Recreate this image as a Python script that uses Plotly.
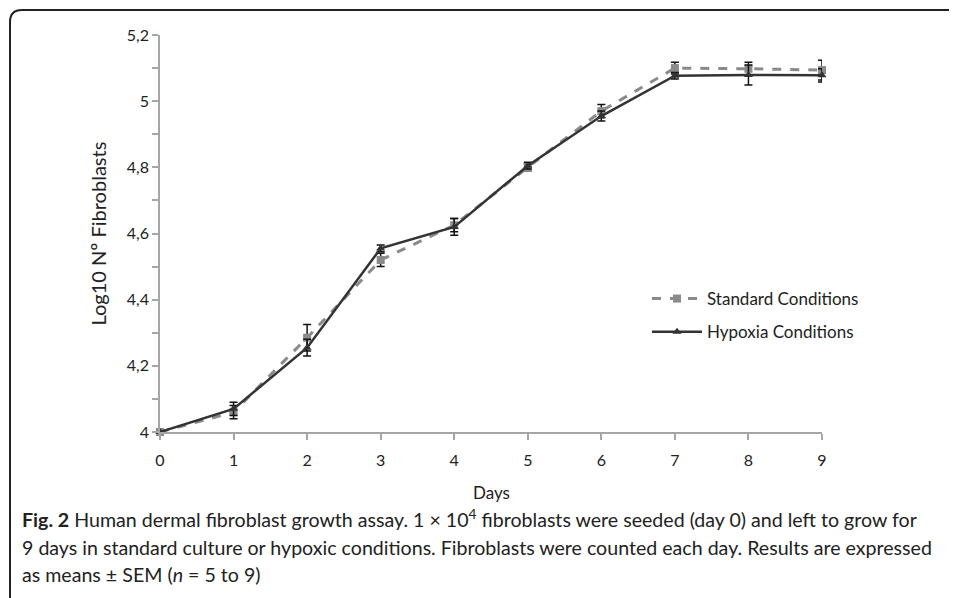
import plotly.graph_objects as go

days = [0, 1, 2, 3, 4, 5, 6, 7, 8, 9]
standard = [4.00, 4.06, 4.285, 4.52, 4.625, 4.80, 4.97, 5.10, 5.098, 5.094]
standard_err = [0.0, 0.02, 0.04, 0.02, 0.02, 0.01, 0.02, 0.018, 0.02, 0.03]
hypoxia = [4.00, 4.07, 4.255, 4.555, 4.62, 4.805, 4.955, 5.077, 5.079, 5.078]
hypoxia_err = [0.0, 0.02, 0.025, 0.01, 0.025, 0.01, 0.015, 0.01, 0.03, 0.02]

y_tickvals = [4.0, 4.2, 4.4, 4.6, 4.8, 5.0, 5.2]
y_ticktext = ["4", "4,2", "4,4", "4,6", "4,8", "5", "5,2"]

FONT = "Lato"
TXT = "#222222"
AX = "#a6a6a6"

fig = go.Figure()
fig.add_trace(go.Scatter(
    x=days, y=standard, name="Standard Conditions", mode="lines+markers",
    line=dict(color="#8a8a8a", width=3, dash="dash"),
    marker=dict(symbol="square", size=8, color="#8a8a8a"),
    error_y=dict(type="data", array=standard_err, color="#111111", thickness=1.5, width=4),
    legendgroup="a", cliponaxis=False,
))
fig.add_trace(go.Scatter(
    x=days, y=hypoxia, name="Hypoxia Conditions", mode="lines+markers",
    line=dict(color="#333333", width=2.5),
    marker=dict(symbol="triangle-up", size=8, color="#333333"),
    error_y=dict(type="data", array=hypoxia_err, color="#111111", thickness=1.5, width=4),
    legendgroup="b", cliponaxis=False,
))

L, R, T, B = 152, 143, 27, 174
W, H = 957, 598
pw, ph = W - L - R, H - T - B

def px(x):
    return (x - L) / pw

def py(y):
    return (H - B - y) / ph

rx, ry = 12 / pw, 12 / ph
left, top, right, bottom = px(2), py(2), px(990), py(640)
border_path = (f"M {left},{bottom} L {left},{top - ry} Q {left},{top} {left + rx},{top} "
               f"L {right},{top}")

fig.update_layout(
    width=W, height=H,
    margin=dict(l=L, r=R, t=T, b=B),
    paper_bgcolor="white", plot_bgcolor="white",
    font=dict(family=FONT, size=16, color=TXT),
    showlegend=True,
    legend=dict(x=px(639), y=py(273), xanchor="left", yanchor="top",
                font=dict(size=17, color=TXT), bgcolor="rgba(0,0,0,0)",
                tracegroupgap=8, traceorder="grouped", itemwidth=50),
    xaxis=dict(range=[0, 9], tickvals=days, ticktext=[str(d) for d in days],
               showline=True, linecolor=AX, linewidth=1.5,
               ticks="outside", ticklen=6, tickcolor=AX, tickwidth=1.5,
               ticklabelstandoff=7,
               showgrid=False, zeroline=False,
               tickfont=dict(size=16, color=TXT)),
    yaxis=dict(range=[4, 5.2], tickvals=y_tickvals, ticktext=y_ticktext,
               showline=True, linecolor=AX, linewidth=1.5,
               ticks="outside", ticklen=6, tickcolor=AX, tickwidth=1.5,
               minor=dict(ticks="outside", dtick=0.1, ticklen=6, tickcolor=AX, tickwidth=1.5),
               showgrid=False, zeroline=False,
               tickfont=dict(size=16, color=TXT)),
    shapes=[dict(type="path", xref="paper", yref="paper", path=border_path,
                 line=dict(color="#222222", width=2))],
)

fig.add_annotation(text="Log10 Nº Fibroblasts", xref="paper", yref="paper",
                   x=px(89), y=0.5, textangle=-90, showarrow=False,
                   xanchor="center", yanchor="middle",
                   font=dict(size=20, color=TXT, family=FONT))
fig.add_annotation(text="Days", xref="paper", yref="paper",
                   x=0.5, y=py(484), showarrow=False,
                   xanchor="center", yanchor="middle",
                   font=dict(size=17, color=TXT, family=FONT))

caption_lines = [
    "<b>Fig. 2</b> Human dermal fibroblast growth assay. 1 × 10<sup>4</sup> fibroblasts were seeded (day 0) and left to grow for",
    "9 days in standard culture or hypoxic conditions. Fibroblasts were counted each day. Results are expressed",
    "as means ± SEM (<i>n</i> = 5 to 9)",
]
caption_y = [510, 539, 566]
for text, yy in zip(caption_lines, caption_y):
    fig.add_annotation(text=text, xref="paper", yref="paper", x=px(12), y=py(yy),
                       xanchor="left", yanchor="middle", showarrow=False,
                       font=dict(size=19.6, color=TXT, family=FONT))

fig.write_html("out.html")
